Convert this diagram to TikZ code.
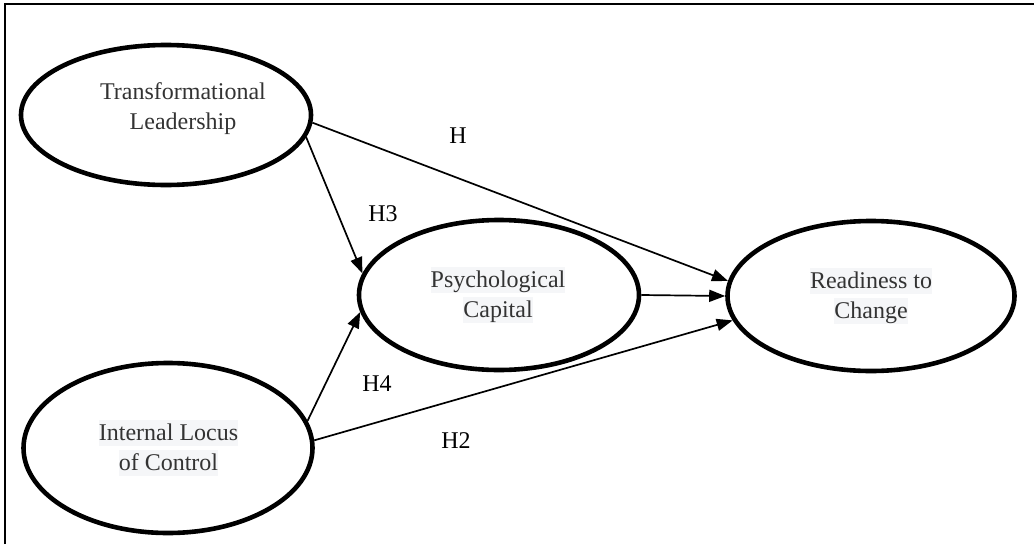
\documentclass[tikz,border=0pt]{standalone}
\usepackage{fontspec}
\setmainfont{Liberation Serif}
\usetikzlibrary{shapes.geometric,arrows.meta}
\definecolor{txt}{HTML}{333333}
\definecolor{hl}{HTML}{F5F6F8}
\newcommand{\hlline}[1]{{\setlength{\fboxsep}{0pt}\colorbox{hl}{\rule[-6pt]{0pt}{26pt}#1}}}
\newcommand{\plainline}[1]{\rule[-6pt]{0pt}{26pt}#1}
\begin{document}
\begin{tikzpicture}[x=1pt,y=-1pt,
  latent/.style={ellipse, draw, line width=4.6pt, inner sep=0pt},
  hpath/.style={line width=1.7pt, -{Triangle[length=16pt,width=12pt]}},
  lbl/.style={font=\fontsize{24}{30}\selectfont, text=txt, align=center, inner sep=0pt},
  hyp/.style={font=\fontsize{24}{30}\selectfont, anchor=base, inner sep=0pt}]
\useasboundingbox (0,0) rectangle (1034,544);
\coordinate (f1) at (4.5,544);
\coordinate (f2) at (4.5,4);
\coordinate (f3) at (1034,4);
\draw[line width=2pt] (f1) -- (f2) -- (f3);

\node[latent, minimum width=290pt, minimum height=140pt] (TL) at (166,115) {};
\node[latent, minimum width=289pt, minimum height=170pt] (ILC) at (168,448) {};
\node[latent, minimum width=280pt, minimum height=150pt] (PC) at (499,295) {};
\node[latent, minimum width=287pt, minimum height=150pt] (RC) at (871,296) {};

\node[lbl] (TLt) at (183,107) {\plainline{Transformational}\\\plainline{Leadership}};
\node[lbl] (ILCt) at (168.5,448) {\hlline{Internal Locus}\\\hlline{of Control}};
\node[lbl] (PCt) at (498,295) {\hlline{Psychological}\\\hlline{Capital}};
\node[lbl] (RCt) at (871,296) {\hlline{Readiness to}\\\hlline{Change}};

\draw[hpath] (TL.-3) -- (RC.174);
\draw[hpath] (TL.-9) -- (PC.171);
\draw[hpath] (PC.east) -- (RC.west);
\draw[hpath] (ILC.11) -- (PC.187);
\draw[hpath] (ILC.3) -- (RC.190);

\node[hyp] (h1) at (458,143) {H};
\node[hyp] (h3) at (383,221) {H3};
\node[hyp] (h4) at (377,391) {H4};
\node[hyp] (h2) at (456,448) {H2};
\end{tikzpicture}
\end{document}
